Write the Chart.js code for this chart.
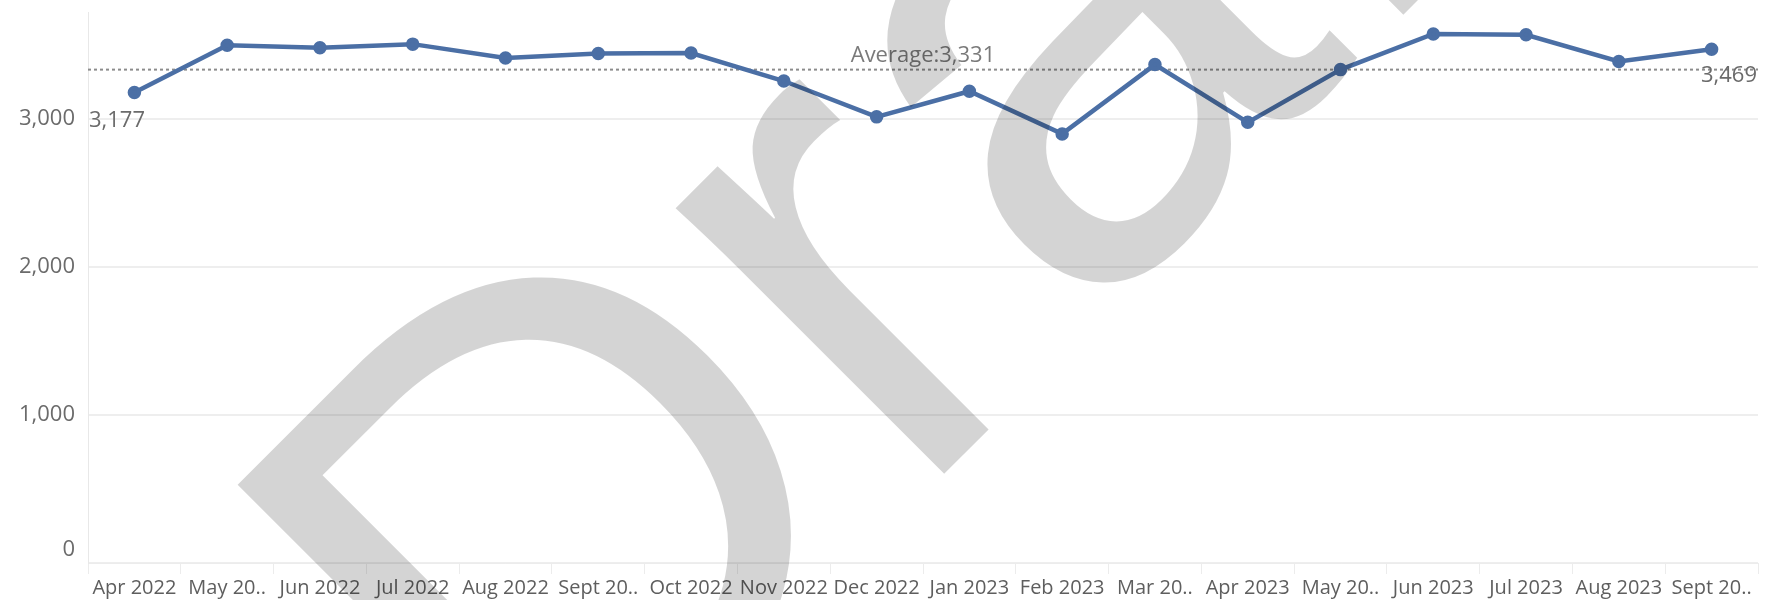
<!DOCTYPE html>
<html>
<head>
<meta charset="utf-8">
<script src="https://cdn.jsdelivr.net/npm/chart.js@4.4.1/dist/chart.umd.min.js"></script>
<style>
  html, body { margin: 0; padding: 0; background: #fff; }
  #wrap { width: 1767px; height: 600px; position: relative; }
</style>
</head>
<body>
<div id="wrap"><canvas id="chart"></canvas></div>
<script>
var months = ['Apr 2022', 'May 20..', 'Jun 2022', 'Jul 2022', 'Aug 2022', 'Sept 20..', 'Oct 2022', 'Nov 2022', 'Dec 2022',
  'Jan 2023', 'Feb 2023', 'Mar 20..', 'Apr 2023', 'May 20..', 'Jun 2023', 'Jul 2023', 'Aug 2023', 'Sept 20..'];
var counts = [3177, 3495, 3478, 3503, 3410, 3440, 3443, 3254, 3012, 3185, 2897, 3365, 2975, 3331, 3572, 3566, 3386, 3469];
var yTicks = [0, 1000, 2000, 3000];
var yMax = 3720;
var watermark = 'Draft';

var LINE = '#4b6fa5';
var TEXT = '#6b6b6b';
var FONT = '"Open Sans", "Liberation Sans", sans-serif';

var total = 0;
counts.forEach(function(v) { total += v; });
var average = total / counts.length;

function fmt(v) {
  return Math.round(v).toLocaleString('en-US');
}

// average reference line + its label, under the series
var avgLine = {
  id: 'avgLine',
  beforeDatasetsDraw: function(chart) {
    var ctx = chart.ctx;
    var area = chart.chartArea;
    var y = chart.scales.y.getPixelForValue(average);
    ctx.save();
    ctx.strokeStyle = '#8c8c8c';
    ctx.lineWidth = 2;
    ctx.setLineDash([3, 3]);
    ctx.beginPath();
    ctx.moveTo(area.left, y);
    ctx.lineTo(area.right, y);
    ctx.stroke();
    ctx.setLineDash([]);
    ctx.fillStyle = '#7a7a7a';
    ctx.font = '22px ' + FONT;
    ctx.textAlign = 'center';
    ctx.textBaseline = 'alphabetic';
    ctx.fillText('Average:' + fmt(average), (area.left + area.right) / 2, y - 8);
    ctx.restore();
  }
};

// first / last value labels
var endLabels = {
  id: 'endLabels',
  afterDatasetsDraw: function(chart) {
    var ctx = chart.ctx;
    var area = chart.chartArea;
    var pts = chart.getDatasetMeta(0).data;
    var first = pts[0], last = pts[pts.length - 1];
    ctx.save();
    ctx.fillStyle = TEXT;
    ctx.font = '22px ' + FONT;
    ctx.textBaseline = 'middle';
    ctx.textAlign = 'left';
    ctx.fillText(fmt(counts[0]), area.left + 1, first.y + 28);
    ctx.textAlign = 'right';
    ctx.fillText(fmt(counts[counts.length - 1]), area.right - 1, last.y + 27);
    ctx.restore();
  }
};

// big diagonal watermark over everything
var draftMark = {
  id: 'draftMark',
  afterDraw: function(chart) {
    var ctx = chart.ctx;
    ctx.save();
    ctx.translate(544, 874);
    ctx.rotate(-Math.PI / 4);
    ctx.fillStyle = 'rgba(0,0,0,0.17)';
    ctx.font = '715px "Liberation Sans", Arial, sans-serif';
    ctx.textBaseline = 'alphabetic';
    ctx.fillText(watermark, 0, 0);
    ctx.restore();
  }
};

var chart = new Chart(document.getElementById('chart'), {
  type: 'line',
  data: {
    labels: months,
    datasets: [{
      data: counts,
      borderColor: LINE,
      backgroundColor: LINE,
      borderWidth: 4.5,
      pointRadius: 4.5,
      pointHoverRadius: 4.5,
      tension: 0
    }]
  },
  options: {
    responsive: true,
    maintainAspectRatio: false,
    animation: false,
    layout: { padding: { top: 12, right: 5, left: 0, bottom: 0 } },
    plugins: {
      legend: { display: false },
      tooltip: { enabled: false }
    },
    scales: {
      x: {
        offset: true,
        grid: {
          offset: true,
          drawOnChartArea: false,
          tickLength: 11,
          color: '#ececec'
        },
        border: { color: '#ececec', width: 1 },
        ticks: {
          color: '#5e5e5e',
          font: { size: 20, family: FONT },
          padding: 2,
          maxRotation: 0,
          autoSkip: false
        },
        afterFit: function(scale) {
          scale.height = 37;
          scale.paddingLeft = 0;
          scale.paddingRight = 0;
        }
      },
      y: {
        min: 0,
        max: yMax,
        grid: { color: '#eeeeee', lineWidth: 2, drawTicks: false },
        border: { color: '#e8e8e8', width: 1 },
        ticks: {
          color: TEXT,
          font: { size: 22, family: FONT },
          padding: 13,
          callback: function(v) {
            // bottom label sits above its gridline, as in the original
            return v === 0 ? ['0', ''] : fmt(v);
          }
        },
        afterBuildTicks: function(scale) {
          scale.ticks = yTicks.map(function(v) { return { value: v }; });
        },
        afterFit: function(scale) {
          scale.width = 88;
          scale.paddingTop = 0;
          scale.paddingBottom = 0;
        }
      }
    }
  },
  plugins: [avgLine, endLabels, draftMark]
});
</script>
</body>
</html>
